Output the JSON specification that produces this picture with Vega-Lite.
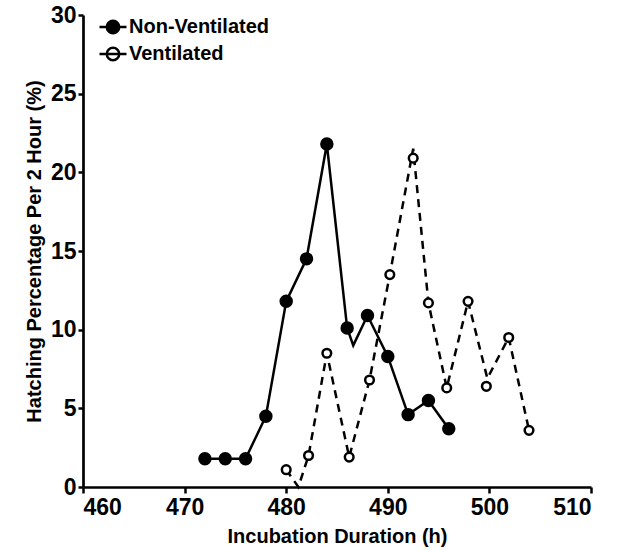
{
  "$schema": "https://vega.github.io/schema/vega-lite/v6.json",
  "autosize": "none",
  "width": 508,
  "height": 472,
  "padding": {"left": 83, "top": 15, "right": 28, "bottom": 63},
  "background": "white",
  "config": {
    "view": {"stroke": null},
    "font": "Liberation Sans",
    "axis": {
      "grid": false,
      "domainColor": "black",
      "domainWidth": 2.7,
      "tickColor": "black",
      "tickWidth": 2.5,
      "tickSize": 6,
      "labelFont": "Liberation Sans",
      "labelFontSize": 23,
      "labelFontWeight": "bold",
      "labelColor": "black",
      "titleFont": "Liberation Sans",
      "titleFontSize": 20,
      "titleFontWeight": "bold",
      "titleColor": "black"
    },
    "legend": {
      "title": null,
      "orient": "none",
      "legendX": 15,
      "legendY": -3,
      "symbolType": "M-1,0L1,0M0.46,0A0.46,0.46,0,1,1,-0.46,0A0.46,0.46,0,1,1,0.46,0Z",
      "symbolSize": 729,
      "symbolStrokeColor": "black",
      "symbolStrokeWidth": 2.5,
      "symbolOpacity": 1,
      "labelFont": "Liberation Sans",
      "labelFontSize": 20,
      "labelFontWeight": "bold",
      "labelColor": "black",
      "labelOffset": 1,
      "rowPadding": -3
    }
  },
  "datasets": {
    "points": [
      {"series": "Non-Ventilated", "hour": 472, "pct": 1.8},
      {"series": "Non-Ventilated", "hour": 474, "pct": 1.8},
      {"series": "Non-Ventilated", "hour": 476, "pct": 1.8},
      {"series": "Non-Ventilated", "hour": 478, "pct": 4.5},
      {"series": "Non-Ventilated", "hour": 480, "pct": 11.8},
      {"series": "Non-Ventilated", "hour": 482, "pct": 14.5},
      {"series": "Non-Ventilated", "hour": 484, "pct": 21.8},
      {"series": "Non-Ventilated", "hour": 486, "pct": 10.1},
      {"series": "Non-Ventilated", "hour": 488, "pct": 10.9},
      {"series": "Non-Ventilated", "hour": 490, "pct": 8.3},
      {"series": "Non-Ventilated", "hour": 492, "pct": 4.6},
      {"series": "Non-Ventilated", "hour": 494, "pct": 5.5},
      {"series": "Non-Ventilated", "hour": 496, "pct": 3.7},
      {"series": "Ventilated", "hour": 480, "pct": 1.1},
      {"series": "Ventilated", "hour": 482.2, "pct": 2.0},
      {"series": "Ventilated", "hour": 484, "pct": 8.5},
      {"series": "Ventilated", "hour": 486.2, "pct": 1.9},
      {"series": "Ventilated", "hour": 488.2, "pct": 6.8},
      {"series": "Ventilated", "hour": 490.2, "pct": 13.5},
      {"series": "Ventilated", "hour": 492.5, "pct": 20.9},
      {"series": "Ventilated", "hour": 494, "pct": 11.7},
      {"series": "Ventilated", "hour": 495.8, "pct": 6.3},
      {"series": "Ventilated", "hour": 497.9, "pct": 11.8},
      {"series": "Ventilated", "hour": 499.7, "pct": 6.4},
      {"series": "Ventilated", "hour": 501.9, "pct": 9.5},
      {"series": "Ventilated", "hour": 503.9, "pct": 3.6}
    ],
    "lines": [
      {"series": "Non-Ventilated", "hour": 472, "pct": 1.8},
      {"series": "Non-Ventilated", "hour": 474, "pct": 1.8},
      {"series": "Non-Ventilated", "hour": 476, "pct": 1.8},
      {"series": "Non-Ventilated", "hour": 478, "pct": 4.5},
      {"series": "Non-Ventilated", "hour": 480, "pct": 11.8},
      {"series": "Non-Ventilated", "hour": 482, "pct": 14.5},
      {"series": "Non-Ventilated", "hour": 484, "pct": 21.8},
      {"series": "Non-Ventilated", "hour": 486, "pct": 10.1},
      {"series": "Non-Ventilated", "hour": 486.6, "pct": 9.0},
      {"series": "Non-Ventilated", "hour": 488, "pct": 10.9},
      {"series": "Non-Ventilated", "hour": 490, "pct": 8.3},
      {"series": "Non-Ventilated", "hour": 492, "pct": 4.6},
      {"series": "Non-Ventilated", "hour": 494, "pct": 5.5},
      {"series": "Non-Ventilated", "hour": 496, "pct": 3.7},
      {"series": "Ventilated", "hour": 480, "pct": 1.1},
      {"series": "Ventilated", "hour": 481.2, "pct": 0.0},
      {"series": "Ventilated", "hour": 482.2, "pct": 2.0},
      {"series": "Ventilated", "hour": 484, "pct": 8.5},
      {"series": "Ventilated", "hour": 486.2, "pct": 1.9},
      {"series": "Ventilated", "hour": 488.2, "pct": 6.8},
      {"series": "Ventilated", "hour": 490.2, "pct": 13.5},
      {"series": "Ventilated", "hour": 492.5, "pct": 21.5},
      {"series": "Ventilated", "hour": 494, "pct": 11.7},
      {"series": "Ventilated", "hour": 495.8, "pct": 6.3},
      {"series": "Ventilated", "hour": 497.9, "pct": 11.8},
      {"series": "Ventilated", "hour": 499.8, "pct": 6.9},
      {"series": "Ventilated", "hour": 501.9, "pct": 9.5},
      {"series": "Ventilated", "hour": 503.9, "pct": 3.6}
    ]
  },
  "encoding": {
    "x": {
      "field": "hour",
      "type": "quantitative",
      "scale": {"domain": [460, 510], "nice": false, "zero": false},
      "axis": {"values": [460, 470, 480, 490, 500, 510], "title": "Incubation Duration (h)", "labelPadding": 3, "titlePadding": 7}
    },
    "y": {
      "field": "pct",
      "type": "quantitative",
      "scale": {"domain": [0, 30], "nice": false},
      "axis": {"values": [0, 5, 10, 15, 20, 25, 30], "title": "Hatching Percentage Per 2 Hour (%)", "labelPadding": 2, "tickSize": 5, "titlePadding": 6}
    }
  },
  "layer": [
    {
      "data": {"name": "lines"},
      "transform": [{"filter": "datum.series === 'Ventilated'"}],
      "mark": {"type": "line", "color": "black", "strokeWidth": 2.5, "strokeDash": [8, 6]},
      "encoding": {}
    },
    {
      "data": {"name": "lines"},
      "transform": [{"filter": "datum.series === 'Non-Ventilated'"}],
      "mark": {"type": "line", "color": "black", "strokeWidth": 2.5},
      "encoding": {}
    },
    {
      "data": {"name": "points"},
      "transform": [{"filter": "datum.series === 'Ventilated'"}],
      "mark": {"type": "point", "shape": "circle", "filled": false, "stroke": "black", "strokeWidth": 2.5, "opacity": 1, "size": 75},
      "encoding": {
        "fill": {
          "field": "series",
          "type": "nominal",
          "scale": {"domain": ["Non-Ventilated", "Ventilated"], "range": ["black", "white"]}
        }
      }
    },
    {
      "data": {"name": "points"},
      "transform": [{"filter": "datum.series === 'Non-Ventilated'"}],
      "mark": {"type": "point", "shape": "circle", "filled": false, "stroke": "black", "strokeWidth": 2.5, "opacity": 1, "size": 120},
      "encoding": {
        "fill": {
          "field": "series",
          "type": "nominal",
          "scale": {"domain": ["Non-Ventilated", "Ventilated"], "range": ["black", "white"]}
        }
      }
    }
  ]
}
